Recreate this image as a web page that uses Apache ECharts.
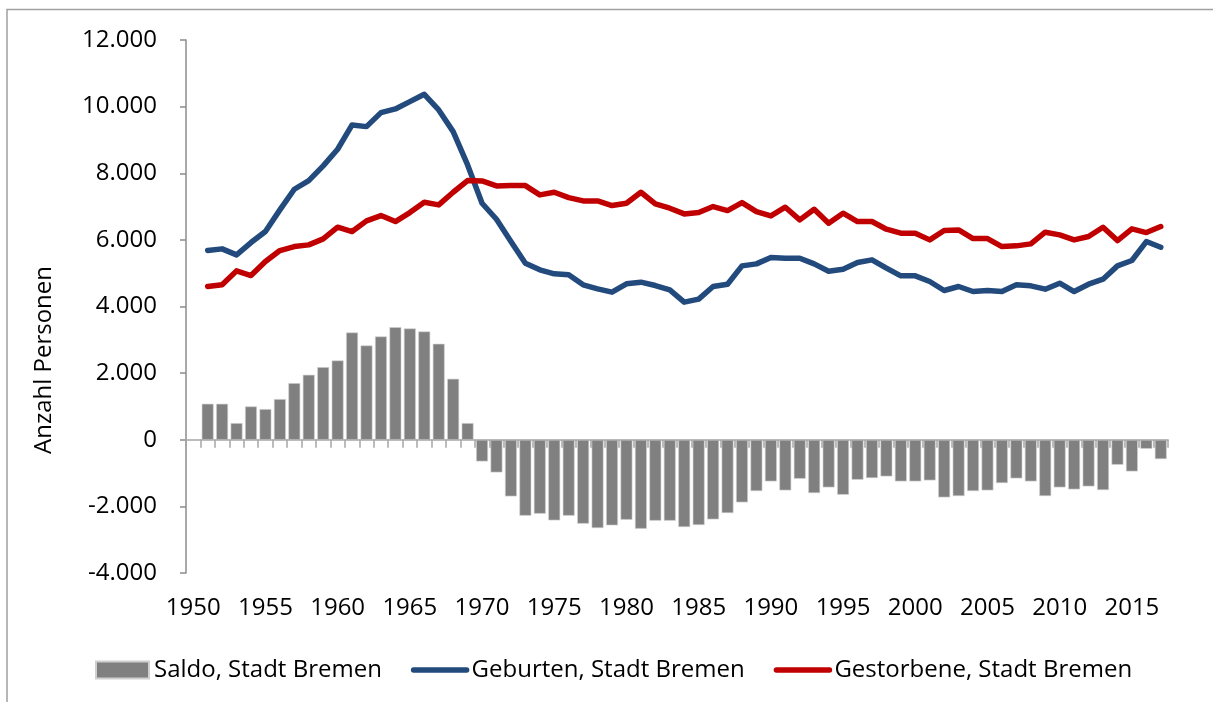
<!DOCTYPE html>
<html>
<head>
<meta charset="utf-8">
<script src="https://cdn.jsdelivr.net/npm/echarts@6/dist/echarts.min.js"></script>
<style>
  html, body { margin: 0; padding: 0; background: #fff; }
  #chart { width: 1213px; height: 702px; }
</style>
</head>
<body>
<div id="chart"></div>
<script>
const years = [
  '1950', '1951', '1952', '1953', '1954', '1955', '1956', '1957', '1958', '1959',
  '1960', '1961', '1962', '1963', '1964', '1965', '1966', '1967', '1968', '1969',
  '1970', '1971', '1972', '1973', '1974', '1975', '1976', '1977', '1978', '1979',
  '1980', '1981', '1982', '1983', '1984', '1985', '1986', '1987', '1988', '1989',
  '1990', '1991', '1992', '1993', '1994', '1995', '1996', '1997', '1998', '1999',
  '2000', '2001', '2002', '2003', '2004', '2005', '2006', '2007', '2008', '2009',
  '2010', '2011', '2012', '2013', '2014', '2015', '2016', '2017'
];

// 1950 has no values
const saldo = [
  null, 1080, 1080, 500, 1000, 920, 1220, 1700, 1950, 2180,
  2380, 3220, 2830, 3100, 3380, 3340, 3250, 2880, 1830, 500,
  -650, -980, -1700, -2280, -2220, -2420, -2280, -2520, -2650, -2570,
  -2400, -2670, -2430, -2430, -2620, -2560, -2390, -2200, -1880, -1540,
  -1250, -1520, -1170, -1600, -1430, -1650, -1200, -1150, -1100, -1250,
  -1250, -1220, -1730, -1690, -1540, -1520, -1300, -1160, -1250, -1690,
  -1430, -1490, -1400, -1510, -750, -950, -270, -580
];

const geburten = [
  null, 5680, 5730, 5550, 5920, 6250, 6900, 7520, 7780, 8220,
  8720, 9450, 9400, 9820, 9930, 10150, 10370, 9900, 9250, 8250,
  7100, 6620, 5950, 5300, 5100, 4980, 4950, 4650, 4530, 4430,
  4680, 4730, 4630, 4500, 4130, 4220, 4600, 4670, 5220, 5280,
  5470, 5450, 5450, 5280, 5060, 5120, 5320, 5400, 5150, 4920,
  4920, 4750, 4480, 4600, 4450, 4480, 4450, 4650, 4620, 4520,
  4700, 4450, 4670, 4820, 5220, 5380, 5950, 5780
];

const gestorbene = [
  null, 4600, 4650, 5070, 4930, 5350, 5680, 5800, 5850, 6030,
  6380, 6250, 6570, 6730, 6550, 6820, 7130, 7050, 7430, 7780,
  7770, 7620, 7630, 7630, 7350, 7430, 7270, 7170, 7170, 7030,
  7100, 7430, 7080, 6950, 6780, 6820, 7000, 6880, 7120, 6850,
  6720, 6980, 6600, 6920, 6500, 6800, 6550, 6550, 6320, 6200,
  6200, 6000, 6280, 6300, 6040, 6040, 5800, 5820, 5880, 6230,
  6150, 6000, 6100, 6380, 5980, 6330, 6220, 6400
];

const FONT = '"Open Sans", "Noto Sans", sans-serif';
const BLUE = '#224a7c';
const RED = '#c00000';

function fmtDe(v) {
  const s = String(Math.abs(v)).replace(/\B(?=(\d{3})+(?!\d))/g, '.');
  return (v < 0 ? '-' : '') + s;
}

const chart = echarts.init(document.getElementById('chart'), null, { renderer: 'canvas' });

chart.setOption({
  backgroundColor: '#fff',
  animation: false,
  textStyle: { fontFamily: FONT },
  grid: { left: 186, right: 45, top: 40, bottom: 129, containLabel: false },
  legend: {
    left: 95,
    top: 658,
    padding: 0,
    itemWidth: 53,
    itemHeight: 17,
    itemGap: 29,
    textStyle: { fontFamily: FONT, fontSize: 24, color: '#000' },
    data: [
      { name: 'Saldo, Stadt Bremen', icon: 'rect' },
      {
        name: 'Geburten, Stadt Bremen',
        itemStyle: { opacity: 0 },
        lineStyle: { color: BLUE, width: 5.5, cap: 'round' }
      },
      {
        name: 'Gestorbene, Stadt Bremen',
        itemStyle: { opacity: 0 },
        lineStyle: { color: RED, width: 5.5, cap: 'round' }
      }
    ]
  },
  graphic: [
    {
      type: 'rect',
      shape: { x: 7, y: 9.5, width: 1400, height: 900 },
      style: { fill: 'none', stroke: '#a0a0a0', lineWidth: 1.5 },
      silent: true
    },
    {
      type: 'text',
      x: 44,
      y: 360,
      rotation: Math.PI / 2,
      style: {
        text: 'Anzahl Personen',
        fontFamily: FONT,
        fontSize: 24,
        fill: '#000',
        textAlign: 'center',
        textVerticalAlign: 'middle'
      }
    }
  ],
  xAxis: [
    {
      type: 'category',
      data: years,
      position: 'bottom',
      boundaryGap: true,
      axisLine: { show: false, onZero: false },
      axisTick: { show: false },
      axisLabel: {
        interval: 4,
        margin: 23,
        fontFamily: FONT,
        fontSize: 24,
        color: '#000'
      },
      splitLine: { show: false }
    },
    {
      type: 'category',
      data: years,
      position: 'bottom',
      boundaryGap: true,
      z: 5,
      axisLine: { show: true, onZero: true, lineStyle: { color: '#a6a6a6', width: 1.5 } },
      axisTick: { show: true, interval: 0, length: 8, lineStyle: { color: '#a6a6a6', width: 1.5 } },
      axisLabel: { show: false },
      splitLine: { show: false }
    }
  ],
  yAxis: {
    type: 'value',
    min: -4000,
    max: 12000,
    interval: 2000,
    axisLine: { show: true, lineStyle: { color: '#8c8c8c', width: 1.5 } },
    axisTick: { show: true, length: 6, lineStyle: { color: '#8c8c8c', width: 1.5 } },
    axisLabel: {
      margin: 29,
      fontFamily: FONT,
      fontSize: 24,
      color: '#000',
      formatter: fmtDe
    },
    splitLine: { show: false }
  },
  series: [
    {
      name: 'Saldo, Stadt Bremen',
      type: 'bar',
      xAxisIndex: 0,
      data: saldo,
      barCategoryGap: '18%',
      itemStyle: { color: '#808080', borderColor: '#d0d0d0', borderWidth: 0.6 }
    },
    {
      name: 'Geburten, Stadt Bremen',
      type: 'line',
      xAxisIndex: 0,
      data: geburten,
      symbol: 'none',
      z: 3,
      lineStyle: { color: BLUE, width: 5.5, cap: 'round', join: 'round' },
      itemStyle: { color: BLUE }
    },
    {
      name: 'Gestorbene, Stadt Bremen',
      type: 'line',
      xAxisIndex: 0,
      data: gestorbene,
      symbol: 'none',
      z: 4,
      lineStyle: { color: RED, width: 5.5, cap: 'round', join: 'round' },
      itemStyle: { color: RED }
    }
  ]
});
</script>
</body>
</html>
